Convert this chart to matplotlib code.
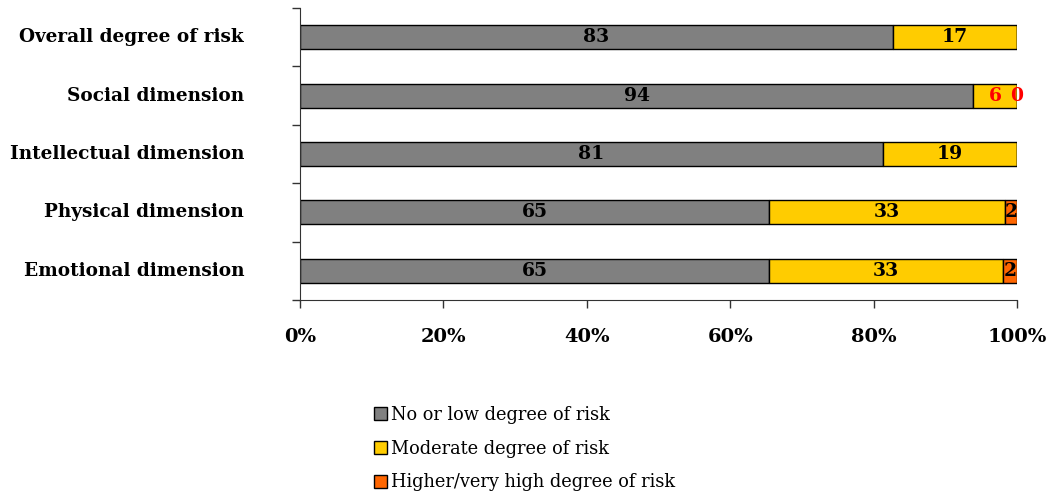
import numpy as np
from matplotlib import pyplot as plt

# Share of pupils (%) in each risk group, per dimension
categories = ['Overall degree of risk', 'Social dimension', 'Intellectual dimension',
              'Physical dimension', 'Emotional dimension']
low = [82.7, 93.9, 81.3, 65.4, 65.4]
moderate = [17.3, 6.1, 18.7, 32.9, 32.6]
high = [0.0, 0.0, 0.0, 1.7, 2.0]

series_names = ['No or low degree of risk', 'Moderate degree of risk',
                'Higher/very high degree of risk']
colors = ['#808080', '#FFCC00', '#FF6600']

# which labels are drawn, and in what colour (None = no label)
label_colors = [
    ['black', 'black', 'black', 'black', 'black'],
    ['black', 'red', 'black', 'black', 'black'],
    [None, 'red', None, 'black', 'black'],
]

serif = 'DejaVu Serif'
plt.rcParams['font.family'] = serif

fig = plt.figure(figsize=(10.57, 4.92), dpi=100)
ax = fig.add_axes([300 / 1057, 1 - 300 / 492, 717 / 1057, 292 / 492])

y = np.arange(len(categories))
left = np.zeros(len(categories))
for vals, col, name, lcols in zip([low, moderate, high], colors, series_names, label_colors):
    vals = np.array(vals)
    ax.barh(y, vals / 100, left=left, height=0.41, color=col, edgecolor='black',
            linewidth=1, label=name)
    for i, v in enumerate(vals):
        if lcols[i] is None:
            continue
        ax.text(left[i] + v / 200, y[i], f'{v:.0f}', ha='center', va='center',
                fontsize=13.5, fontweight='bold', color=lcols[i])
    left += vals / 100

ax.set_xlim(0, 1)
ax.set_ylim(len(categories) - 0.5, -0.5)
ax.set_xticks(np.arange(0, 1.01, 0.2))
ax.set_xticklabels([f'{int(t * 100)}%' for t in np.arange(0, 1.01, 0.2)],
                   fontsize=14, fontweight='bold')
ax.set_yticks(np.arange(-0.5, len(categories), 1))
ax.set_yticklabels([])
ax.tick_params(axis='both', direction='out', length=6, width=1, color='#333333')
ax.tick_params(axis='x', pad=14)
for i, c in enumerate(categories):
    ax.text(-0.078, y[i], c, ha='right', va='center', fontsize=13.3,
            fontweight='bold', transform=ax.get_yaxis_transform())

for s in ['top', 'right']:
    ax.spines[s].set_visible(False)
for s in ['left', 'bottom']:
    ax.spines[s].set_color('#333333')

handles, labels = ax.get_legend_handles_labels()
fig.legend(handles, labels, loc='upper left', bbox_to_anchor=(358 / 1057, 1 - 390 / 492),
           frameon=False, handlelength=0.75, handleheight=0.75, handletextpad=0.2,
           labelspacing=0.88, prop={'family': serif, 'size': 12.8})

fig.savefig('out.png', dpi=100)
